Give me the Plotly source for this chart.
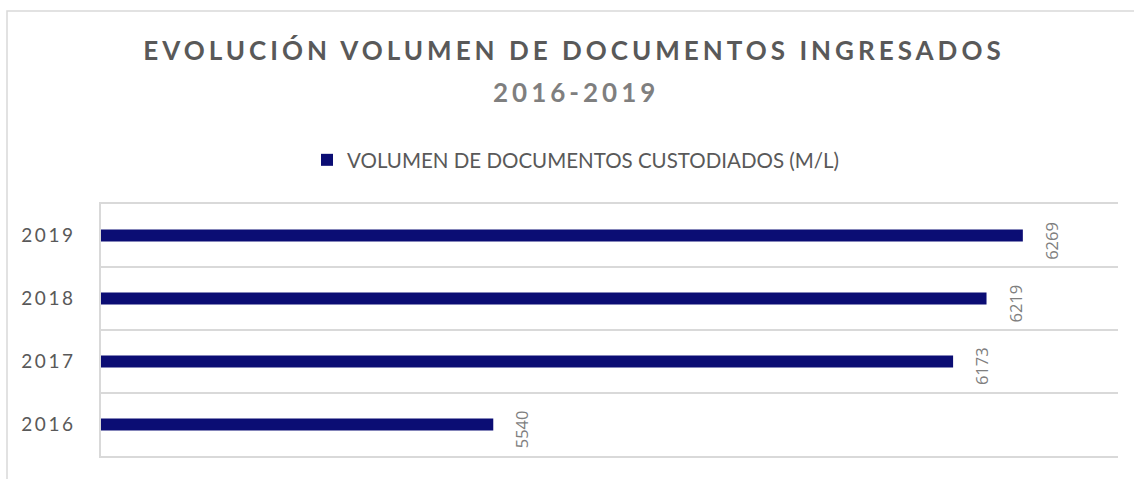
import plotly.graph_objects as go

# Volumen de documentos custodiados por año (metros lineales)
years = ["2016", "2017", "2018", "2019"]
volumes = [5540, 6173, 6219, 6269]
series_name = "VOLUMEN DE DOCUMENTOS CUSTODIADOS (M/L)"
title_main = "EVOLUCIÓN VOLUMEN DE DOCUMENTOS INGRESADOS"
title_period = "2016-2019"

NAVY = "#0b0d74"
GRID = "#d9d9d9"
DARK = "#595959"
MID = "#7f7f7f"
FONT = "Lato"

# plot area in pixels
L, R, T, B = 101, 1118, 204, 456
W, H = 1134, 479

fig = go.Figure()
fig.add_trace(go.Bar(
    x=volumes,
    y=years,
    orientation="h",
    width=0.19,
    name=series_name,
    marker=dict(color=NAVY, line=dict(width=0)),
    showlegend=True,
))

# value labels, rotated, just past the end of each bar
# (category axis: annotations are placed by category index)
for idx, v in enumerate(volumes):
    fig.add_annotation(
        x=v, y=idx, text=str(v), showarrow=False,
        textangle=-90, xanchor="left", yanchor="middle",
        xshift=15, yshift=-5,
        font=dict(family="Open Sans", size=16.5, color=MID),
    )

# second title line
fig.add_annotation(
    xref="paper", yref="paper",
    x=(576 - L) / (R - L), y=(B - 92) / (B - T),
    xanchor="center", yanchor="middle", showarrow=False,
    text=f"<b><span style='letter-spacing:4px'>{title_period}</span></b>",
    font=dict(family=FONT, size=26, color=MID),
)

# outer chart frame
fig.add_shape(
    type="rect", xref="paper", yref="paper",
    x0=(7 - L) / (R - L), x1=1.05, y0=-0.3, y1=(B - 11) / (B - T),
    line=dict(color=GRID, width=1.5), fillcolor="rgba(0,0,0,0)", layer="below",
)

spaced_ticks = [f"<span style='letter-spacing:2.5px'>{y}</span>" for y in years]

fig.update_layout(
    width=W, height=H,
    margin=dict(l=L, r=W - R, t=T, b=H - B, pad=0),
    paper_bgcolor="white", plot_bgcolor="white",
    font=dict(family=FONT, color=DARK),
    title=dict(
        text=f"<b><span style='letter-spacing:4px'>{title_main}</span></b>",
        x=574 / W, xanchor="center", xref="container",
        y=1 - 51 / H, yanchor="middle", yref="container",
        font=dict(family=FONT, size=26, color=DARK),
    ),
    legend=dict(
        orientation="h", xref="container", yref="container",
        x=576 / W, xanchor="center", y=1 - 160 / H, yanchor="middle",
        font=dict(family=FONT, size=20.5, color=DARK),
        itemwidth=30,
    ),
    xaxis=dict(
        range=[5000, 6400], showgrid=False, showticklabels=False,
        zeroline=False, showline=True, linecolor=GRID, linewidth=1.5,
        mirror=True, ticks="",
    ),
    yaxis=dict(
        type="category", categoryorder="array", categoryarray=years,
        range=[-0.5, 3.5], tickson="boundaries", ticks="",
        tickmode="array", tickvals=years, ticktext=spaced_ticks,
        showgrid=True, gridcolor=GRID, gridwidth=1.5,
        showline=True, linecolor=GRID, linewidth=1.5,
        zeroline=False, ticklabelstandoff=20,
        tickfont=dict(family=FONT, size=19, color=DARK),
    ),
    bargap=0.8,
)

fig.write_html("out.html")
